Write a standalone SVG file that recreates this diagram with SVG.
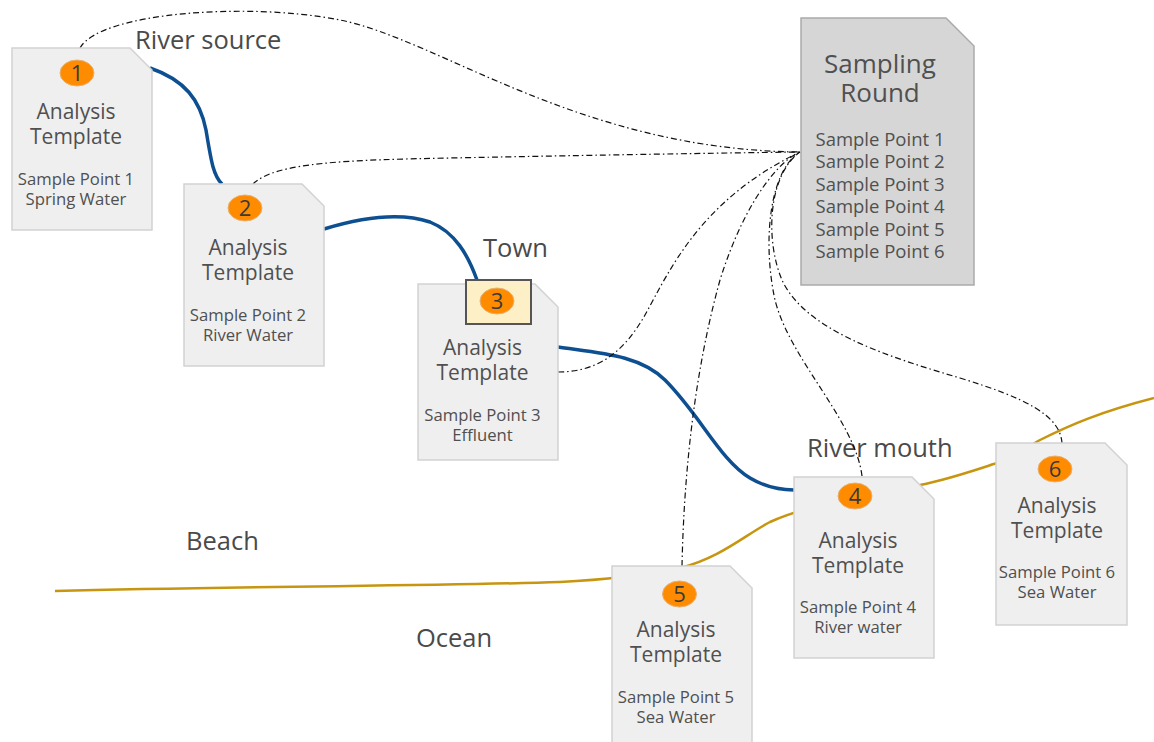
<svg xmlns="http://www.w3.org/2000/svg" width="1154" height="742" viewBox="0 0 1154 742">
<style>
text{font-family:"Open Sans","Noto Sans","DejaVu Sans",sans-serif;fill:#505050}
.lbl{font-size:25.5px;fill:#4a4a4a}
.t{font-size:21px;text-anchor:middle}
.s{font-size:16.7px;text-anchor:middle}
.n{font-size:22px;text-anchor:middle;fill:#3a3a3a}
.doc{fill:#efefef;stroke:#d2d2d2;stroke-width:1.5}
.sr{fill:#d6d6d6;stroke:#ababab;stroke-width:1.5}
.badge{fill:#ff8c00;stroke:#e8b070;stroke-width:1}
.coast{fill:none;stroke:#c7950f;stroke-width:2.5}
.river{fill:none;stroke:#0d4f91;stroke-width:3.5}
.link{fill:none;stroke:#111;stroke-width:1.2;stroke-dasharray:6 3 1.5 3}
</style>
<rect width="1154" height="742" fill="#ffffff"/>
<g id="labels">
<text class="lbl" x="135" y="49">River source</text>
<text class="lbl" x="483" y="257">Town</text>
<text class="lbl" x="807" y="457">River mouth</text>
<text class="lbl" x="186" y="550">Beach</text>
<text class="lbl" x="416" y="647">Ocean</text>
</g>
<g id="connectors">
<path class="coast" d="M55,591 C250,586 450,586 560,582 C600,580 640,576 680,568 C720,558 745,535 770,522 C800,508 860,495 920,485 C950,479 975,470 997,463 C1015,457 1025,448 1040,440 C1070,425 1100,412 1154,398"/>
<path class="river" d="M150,68 C185,80 200,100 206,130 C211,160 213,175 222,184"/>
<path class="river" d="M324,229 C360,218 400,212 430,222 C455,232 468,255 477,280"/>
<path class="river" d="M558,347 C600,353 640,355 665,380 C700,415 720,460 750,478 C765,487 780,490 794,490"/>
<path class="link" d="M80,48 C100,12 250,2 340,20 C440,40 580,150 800,152"/>
<path class="link" d="M253,184 C275,162 350,160 450,158 C600,155 720,153 800,152"/>
<path class="link" d="M558,372 C600,372 625,350 645,315 C670,270 700,200 800,152"/>
<path class="link" d="M682,566 C684,470 695,370 720,280 C745,200 780,160 800,152"/>
<path class="link" d="M862,476 C855,420 790,360 775,300 C762,240 770,170 800,152"/>
<path class="link" d="M1062,443 C1060,415 1025,398 960,378 C885,356 805,330 782,280 C765,240 768,175 800,152"/>
</g>
<g id="sampling-round">
<path class="sr" d="M801,18 H946 L974,46 V285 H801 Z"/>
<text x="880" y="73" style="font-size:26px;text-anchor:middle">Sampling</text>
<text x="880" y="102" style="font-size:26px;text-anchor:middle">Round</text>
<g style="font-size:18.5px;text-anchor:middle">
<text x="880" y="146">Sample Point 1</text>
<text x="880" y="168">Sample Point 2</text>
<text x="880" y="191">Sample Point 3</text>
<text x="880" y="213">Sample Point 4</text>
<text x="880" y="236">Sample Point 5</text>
<text x="880" y="258">Sample Point 6</text>
</g>
</g>
<g id="node1" transform="translate(12,48)">
<path class="doc" d="M0,0 H118 L140,22 V182 H0 Z"/>
<ellipse class="badge" cx="65" cy="25" rx="17" ry="13"/>
<text class="n" x="65" y="33">1</text>
<text class="t" x="64" y="71">Analysis</text>
<text class="t" x="64" y="96">Template</text>
<text class="s" x="64" y="137">Sample Point 1</text>
<text class="s" x="64" y="157">Spring Water</text>
</g>
<g id="node2" transform="translate(184,184)">
<path class="doc" d="M0,0 H118 L140,22 V182 H0 Z"/>
<ellipse class="badge" cx="61" cy="24" rx="17" ry="13"/>
<text class="n" x="61" y="32">2</text>
<text class="t" x="64" y="71">Analysis</text>
<text class="t" x="64" y="96">Template</text>
<text class="s" x="64" y="137">Sample Point 2</text>
<text class="s" x="64" y="157">River Water</text>
</g>
<g id="node3" transform="translate(418,284)">
<path class="doc" d="M0,0 H117 L140,23 V176 H0 Z"/>
<rect x="48" y="-4" width="65" height="44" fill="#fdefc6" stroke="#555" stroke-width="2"/>
<ellipse class="badge" cx="79" cy="17" rx="17" ry="13"/>
<text class="n" x="79" y="25">3</text>
<text class="t" x="64.5" y="71">Analysis</text>
<text class="t" x="64.5" y="96">Template</text>
<text class="s" x="64.5" y="137">Sample Point 3</text>
<text class="s" x="64.5" y="157">Effluent</text>
</g>
<g id="node4" transform="translate(794,477)">
<path class="doc" d="M0,0 H118 L140,22 V181 H0 Z"/>
<ellipse class="badge" cx="61" cy="19" rx="17" ry="13"/>
<text class="n" x="61" y="27">4</text>
<text class="t" x="64" y="71">Analysis</text>
<text class="t" x="64" y="96">Template</text>
<text class="s" x="64" y="136">Sample Point 4</text>
<text class="s" x="64" y="156">River water</text>
</g>
<g id="node5" transform="translate(612,566)">
<path class="doc" d="M0,0 H118 L140,22 V182 H0 Z"/>
<ellipse class="badge" cx="67.5" cy="28" rx="17" ry="13"/>
<text class="n" x="67.5" y="36">5</text>
<text class="t" x="64" y="71">Analysis</text>
<text class="t" x="64" y="96">Template</text>
<text class="s" x="64" y="137">Sample Point 5</text>
<text class="s" x="64" y="157">Sea Water</text>
</g>
<g id="node6" transform="translate(996,443)">
<path class="doc" d="M0,0 H109 L131,22 V182 H0 Z"/>
<ellipse class="badge" cx="59" cy="26" rx="17" ry="13"/>
<text class="n" x="59" y="34">6</text>
<text class="t" x="61" y="70">Analysis</text>
<text class="t" x="61" y="95">Template</text>
<text class="s" x="61" y="135">Sample Point 6</text>
<text class="s" x="61" y="155">Sea Water</text>
</g>
</svg>
